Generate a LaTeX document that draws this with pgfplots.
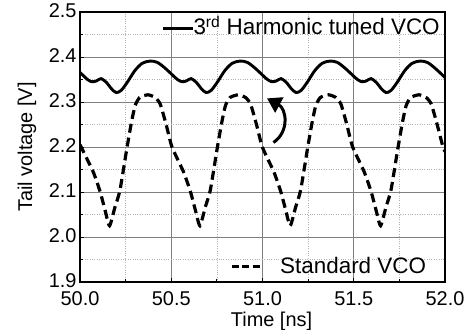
\documentclass[border=0pt]{standalone}
\usepackage{pgfplots}
\pgfplotsset{compat=1.18}
\usepackage{fontspec}
\setmainfont{Liberation Sans}
\usetikzlibrary{arrows.meta}
\begin{document}
\begin{tikzpicture}
\path[use as bounding box] (-80bp,-48bp) rectangle (394bp,282bp);
\begin{axis}[
 scale only axis, width=365bp, height=270bp,
 xmin=50, xmax=52, ymin=1.9, ymax=2.5,
 xtick={50,50.5,51,51.5,52}, ytick={1.9,2,2.1,2.2,2.3,2.4,2.5},
 scaled ticks=false,
 minor x tick num=1, minor y tick num=1,
 grid=both,
 major grid style={draw=black!50, line width=0.6bp},
 minor grid style={draw=black!30, dotted, line width=0.6bp},
 tick align=inside, tick pos=left,
 major tick length=4bp, minor tick length=3bp,
 every tick/.style={black, line width=0.8bp},
 axis line style={line width=1.2bp},
 tick label style={font=\fontsize{20}{24}\selectfont},
 /pgf/number format/assume math mode=true,
 xticklabel style={yshift=-6bp, /pgf/number format/fixed, /pgf/number format/fixed zerofill, /pgf/number format/precision=1},
 yticklabel style={yshift=1bp, /pgf/number format/fixed, /pgf/number format/fixed zerofill, /pgf/number format/precision=1},
 label style={font=\fontsize{20}{24}\selectfont},
 xlabel={Time [ns]}, ylabel={Tail voltage [V]},
 xlabel style={at={(axis description cs:0.5,0)}, anchor=base, yshift=-44bp, xshift=9bp},
 ylabel style={at={(axis description cs:-0.1452,0.5)}, anchor=center},
]
% 3rd harmonic tuned VCO
\addplot[black, line width=2.9bp, smooth, tension=0.5] coordinates {
(50.000,2.366) (50.041,2.350) (50.066,2.345) (50.091,2.347) (50.116,2.352) (50.146,2.343) (50.171,2.330) (50.198,2.321) (50.226,2.326) (50.261,2.345) (50.301,2.370) (50.341,2.386)
(50.384,2.391) (50.424,2.388) (50.464,2.376) (50.504,2.361) (50.534,2.350) (50.559,2.345) (50.584,2.347) (50.609,2.352) (50.639,2.343) (50.664,2.330) (50.691,2.321) (50.719,2.326) (50.754,2.345) (50.794,2.370) (50.834,2.386)
(50.877,2.391) (50.917,2.388) (50.957,2.376) (50.997,2.361) (51.027,2.350) (51.052,2.345) (51.077,2.347) (51.102,2.352) (51.132,2.343) (51.157,2.330) (51.184,2.321) (51.212,2.326) (51.247,2.345) (51.287,2.370) (51.327,2.386)
(51.370,2.391) (51.410,2.388) (51.450,2.376) (51.490,2.361) (51.520,2.350) (51.545,2.345) (51.570,2.347) (51.595,2.352) (51.625,2.343) (51.650,2.330) (51.677,2.321) (51.705,2.326) (51.740,2.345) (51.780,2.370) (51.820,2.386)
(51.863,2.391) (51.903,2.388) (51.943,2.376) (51.983,2.361) (52.000,2.354)
};
% Standard VCO
\addplot[black, line width=3.2bp, dash pattern=on 9bp off 5bp, smooth, tension=0.35] coordinates {
(50.000,2.205) (50.072,2.145) (50.110,2.101) (50.137,2.060)
(50.162,2.025) (50.192,2.067) (50.219,2.104) (50.256,2.195) (50.282,2.255) (50.302,2.292) (50.327,2.310) (50.372,2.316) (50.412,2.310) (50.440,2.295) (50.472,2.250) (50.504,2.200) (50.567,2.145) (50.605,2.101) (50.632,2.060)
(50.657,2.025) (50.687,2.067) (50.714,2.104) (50.751,2.195) (50.777,2.255) (50.797,2.292) (50.822,2.310) (50.867,2.316) (50.907,2.310) (50.935,2.295) (50.967,2.250) (50.999,2.200) (51.062,2.145) (51.100,2.101) (51.127,2.060)
(51.152,2.025) (51.182,2.067) (51.209,2.104) (51.246,2.195) (51.272,2.255) (51.292,2.292) (51.317,2.310) (51.362,2.316) (51.402,2.310) (51.430,2.295) (51.462,2.250) (51.494,2.200) (51.557,2.145) (51.595,2.101) (51.622,2.060)
(51.647,2.025) (51.677,2.067) (51.704,2.104) (51.741,2.195) (51.767,2.255) (51.787,2.292) (51.812,2.310) (51.857,2.316) (51.897,2.310) (51.925,2.295) (51.957,2.250) (51.989,2.200) (52.000,2.190)
};
% legend entries
\draw[black, line width=2.9bp] (axis cs:50.456,2.4638) -- (axis cs:50.620,2.4638);
\node[anchor=base west, inner sep=0pt, font=\fontsize{22.5}{27}\selectfont] at (axis cs:50.621,2.4489) {3\textsuperscript{rd} Harmonic tuned VCO};
\draw[black, line width=3.2bp, dash pattern=on 7bp off 3.5bp] (axis cs:50.831,1.934) -- (axis cs:50.990,1.934);
\node[anchor=base west, inner sep=0pt, font=\fontsize{22.5}{27}\selectfont] at (axis cs:51.096,1.919) {Standard VCO};
% arrow
\draw[black, line width=3bp, -{Triangle[length=14bp,width=17bp]}] (axis cs:51.06,2.21) .. controls (axis cs:51.15,2.235) and (axis cs:51.13,2.285) .. (axis cs:51.025,2.308);
\end{axis}
\end{tikzpicture}
\end{document}
